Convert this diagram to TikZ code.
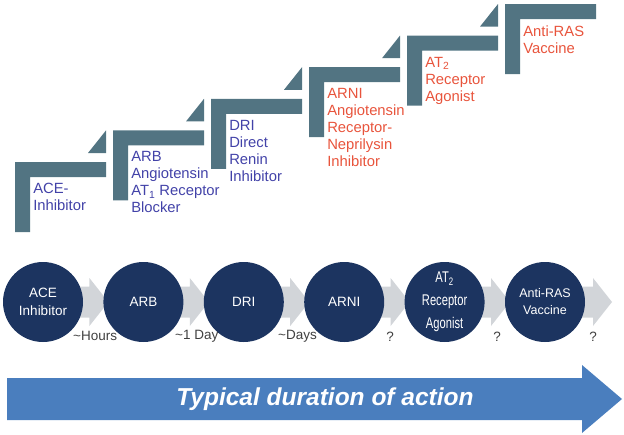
\documentclass[tikz,border=0pt]{standalone}
\usepackage{fontspec}
\setmainfont{Liberation Sans}
\newfontfamily\narrowsans{Liberation Sans}[FakeStretch=0.72]
\usepackage{xcolor}
\usepackage{tikz}
\usetikzlibrary{shapes,backgrounds}
\usetikzlibrary{arrows,positioning,calc}
\definecolor{stepgray}{RGB}{82,116,130}
\definecolor{bluetxt}{RGB}{66,66,168}
\definecolor{redtxt}{RGB}{232,84,60}
\definecolor{navy}{RGB}{28,52,96}
\definecolor{flowgray}{RGB}{210,213,217}
\definecolor{durblue}{RGB}{74,126,190}

\begin{document}
\begin{tikzpicture}[x=1pt,y=1pt,
node distance=20.4pt,
semithick]

\tikzstyle{drug}=[circle, minimum size=80pt, inner sep=0pt, outer sep=0pt,
fill=navy, text=white, align=center, font=\fontsize{13.5}{18}\selectfont]
\tikzstyle{steptext}=[anchor=north west, inner sep=0pt, align=left,
font=\fontsize{14.8}{17}\selectfont]
\tikzstyle{time}=[inner sep=0pt, text=black!75, font=\fontsize{13.5}{16}\selectfont]

\useasboundingbox (0,0) rectangle (624,-434);

%steps
\foreach \k in {0,...,5}{
\fill[stepgray] ({15+98*\k},{-162+31.6*\k}) -- ++(91,0) -- ++(0,-15)
-- ++(-76,0) -- ++(0,-55) -- ++(-15,0) -- cycle;
}
\foreach \k in {0,...,4}{
\fill[stepgray] ({106+98*\k},{-153+31.6*\k}) -- ++(-18,0) -- ++(18,22.6) -- cycle;
}

\node[steptext, text=bluetxt] (stepace) at (33,-183) {ACE-\\Inhibitor};
\node[steptext, text=bluetxt] (steparb) at (131,-151.4)
{ARB\\Angiotensin\\AT\textsubscript{1} Receptor\\Blocker};
\node[steptext, text=bluetxt] (stepdri) at (229,-119.8)
{DRI\\Direct\\Renin\\Inhibitor};
\node[steptext, text=redtxt] (steparni) at (327,-88.2)
{ARNI\\Angiotensin\\Receptor-\\Neprilysin\\Inhibitor};
\node[steptext, text=redtxt] (stepat) at (425,-56.6)
{AT\textsubscript{2}\\Receptor\\Agonist};
\node[steptext, text=redtxt] (stepras) at (523,-25) {Anti-RAS\\Vaccine};

%drug classes
\node[drug] (ace) at (43,-302) {ACE\\Inhibitor};
\node[drug, right=of ace] (arb) {ARB};
\node[drug, right=of arb] (dri) {DRI};
\node[drug, right=of dri] (arni) {ARNI};
\node[drug, right=of arni, font=\narrowsans\fontsize{15.5}{23}\selectfont] (at2)
{AT\textsubscript{2}\\Receptor\\Agonist};
\node[drug, right=of at2, font=\fontsize{12.5}{17}\selectfont] (ras) {Anti-RAS\\Vaccine};

\begin{pgfonlayer}{background}
\foreach \a/\b in {ace/arb,arb/dri,dri/arni,arni/at2,at2/ras}{
\fill[flowgray] ($(\a.center)+(0,15.5)$) -- ($(\b.west)+(-14,15.5)$)
-- ($(\b.west)+(-14,24)$) -- ($(\b.west)+(5,0)$) -- ($(\b.west)+(-14,-24)$)
-- ($(\b.west)+(-14,-15.5)$) -- ($(\a.center)+(0,-15.5)$) -- cycle;
}
\fill[flowgray] ($(ras.center)+(0,15.5)$) -- ($(ras.east)+(8,15.5)$)
-- ($(ras.east)+(8,24)$) -- ($(ras.east)+(27,0)$) -- ($(ras.east)+(8,-24)$)
-- ($(ras.east)+(8,-15.5)$) -- ($(ras.center)+(0,-15.5)$) -- cycle;
\end{pgfonlayer}

%durations
\node[time, anchor=west] (hours) at (73,-336) {\textasciitilde Hours};
\node[time, anchor=west] (oneday) at (175,-336) {\textasciitilde 1 Day};
\node[time, anchor=west] (days) at (278,-336) {\textasciitilde Days};
\node[time] (qat) at (390,-337) {?};
\node[time] (qras) at (497,-337) {?};
\node[time] (qend) at (593,-337) {?};

%time axis
\fill[durblue] (7,-378) -- (582,-378) -- (582,-365) -- (622,-399)
-- (582,-433) -- (582,-420) -- (7,-420) -- cycle;
\node[text=white, font=\fontsize{24.5}{28}\selectfont\bfseries\itshape] (dur)
at (325,-399) {Typical duration of action};

\end{tikzpicture}
\end{document}
